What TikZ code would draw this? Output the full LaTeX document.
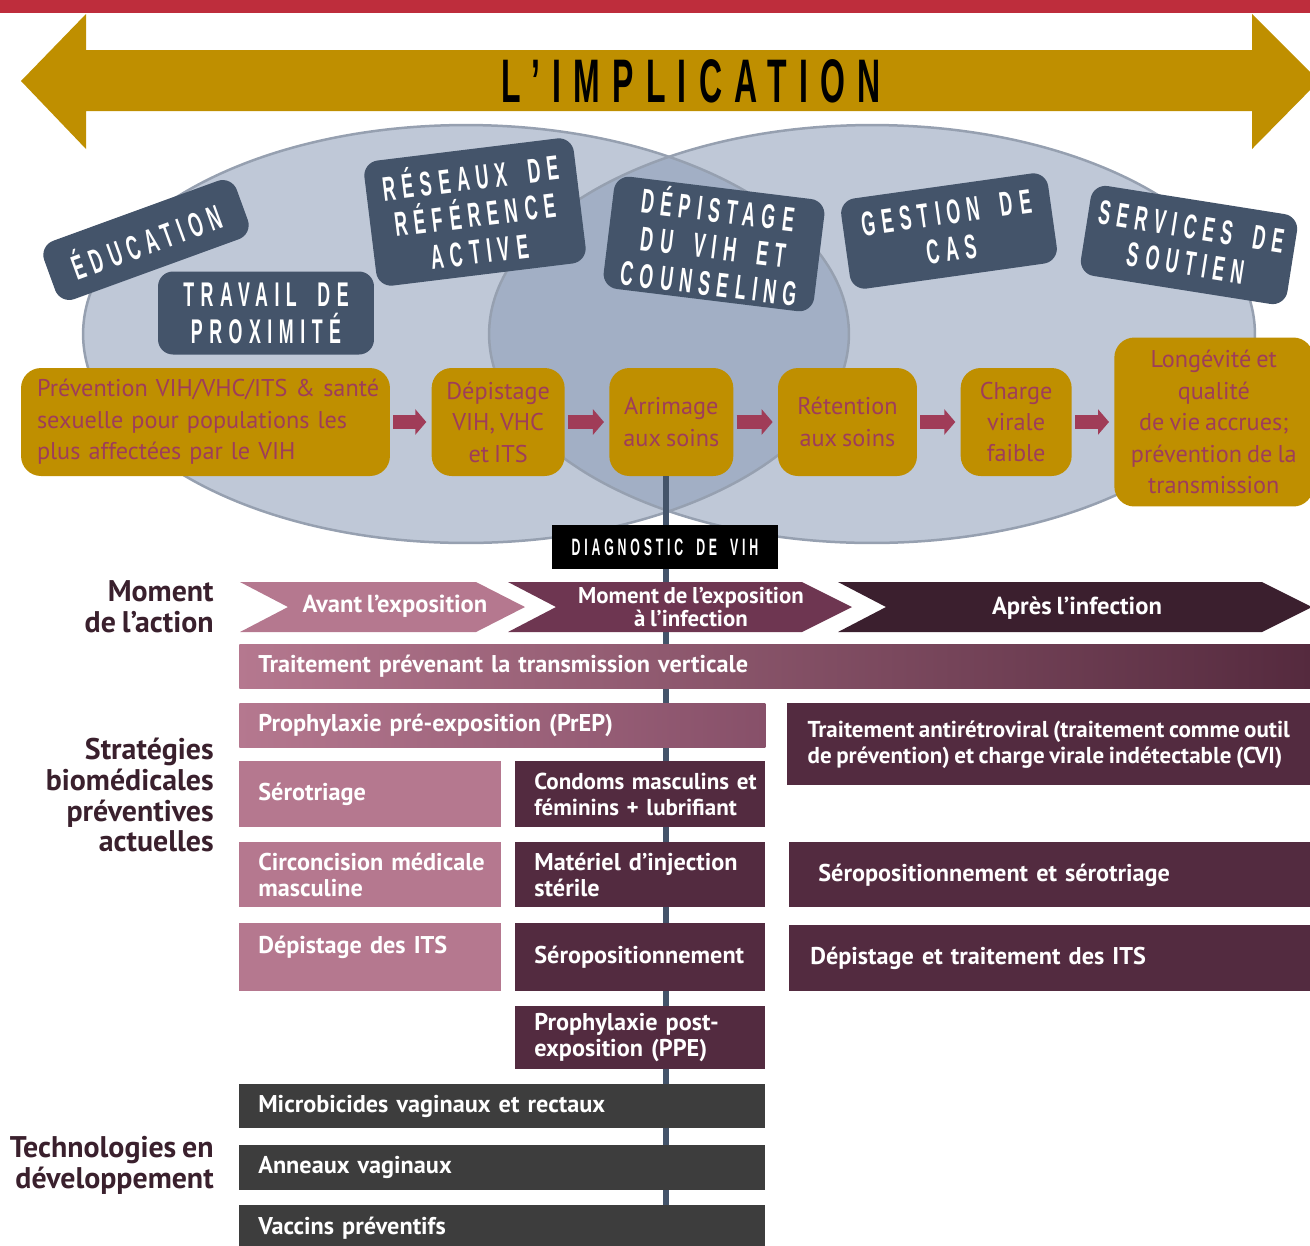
\documentclass[tikz,border=0pt]{standalone}
\usepackage{fontspec}
\setmainfont{PT Sans}
\newfontfamily\myriad[WordSpace=0.78]{PT Sans}
\newfontfamily\bebas[FakeStretch=0.52,LetterSpace=19,WordSpace=1.8]{Liberation Sans}
\usetikzlibrary{positioning,arrows.meta}

\definecolor{redbar}{RGB}{190,45,60}
\definecolor{gold}{RGB}{191,143,0}
\definecolor{haze}{RGB}{138,155,182}
\definecolor{hazeline}{RGB}{150,160,176}
\definecolor{slate}{RGB}{68,84,106}
\definecolor{rosetext}{RGB}{158,61,90}
\definecolor{flowred}{RGB}{160,60,88}
\definecolor{mauve}{RGB}{181,120,143}
\definecolor{plum}{RGB}{110,54,81}
\definecolor{wine}{RGB}{83,43,64}
\definecolor{aubergine}{RGB}{59,31,46}
\definecolor{deepwine}{RGB}{85,42,62}
\definecolor{prepend}{RGB}{135,80,105}
\definecolor{charcoal}{RGB}{61,61,61}
\definecolor{labeltext}{RGB}{58,32,45}

\begin{document}
\begin{tikzpicture}[
  x=0.02cm, y=-0.02cm,
  tag/.style={rectangle, rounded corners=0.3cm, fill=slate, text=white, align=center, inner sep=0pt, font=\bebas\bfseries\fontsize{19.5}{21}\selectfont},
  stepbox/.style={rectangle, rounded corners=0.4cm, fill=gold, text=rosetext, align=center, inner sep=0pt, minimum height=2.16cm, font=\myriad\fontsize{13.8}{17.9}\selectfont},
  flow/.style={-{Triangle[length=0.22cm,width=0.5cm]}, line width=0.28cm, draw=flowred, shorten <=0.06cm, shorten >=0.1cm},
  bar/.style={rectangle, anchor=north west, inner xsep=0.38cm, inner ysep=0pt, text=white, align=left, font=\myriad\bfseries\fontsize{13.8}{14.7}\selectfont},
  phase/.style={text=white, align=center, inner sep=0pt, font=\myriad\bfseries\fontsize{14}{12}\selectfont},
  sidelabel/.style={anchor=east, align=right, text=labeltext, inner sep=0pt, font=\myriad\bfseries\fontsize{17}{17.6}\selectfont},
  spine/.style={draw=slate, line width=0.11cm},
]
  \useasboundingbox (0,0) rectangle (1310,1245);

  % banner
  \fill[redbar] (0,0) rectangle (1310,13);
  \fill[gold] (21,81) -- (86,14) -- (86,50) -- (1252,50) -- (1252,14) -- (1319,81)
    -- (1252,149) -- (1252,111) -- (86,111) -- (86,149) -- cycle;
  \node[font=\bebas\bfseries\fontsize{35}{35}\selectfont\addfontfeature{LetterSpace=20}] (title) at (691,81) {L’IMPLICATION};

  % the two circles
  \fill[haze, fill opacity=0.55] (466,334) ellipse [x radius=7.66cm, y radius=4.18cm];
  \fill[haze, fill opacity=0.55] (872,334) ellipse [x radius=7.66cm, y radius=4.18cm];
  \draw[hazeline, line width=0.05cm] (466,334) ellipse [x radius=7.66cm, y radius=4.18cm];
  \draw[hazeline, line width=0.05cm] (872,334) ellipse [x radius=7.66cm, y radius=4.18cm];

  \node[tag, minimum width=4.1cm, minimum height=1.24cm, rotate=20] (educ) at (146,240) {ÉDUCATION};
  \node[tag, minimum width=4.32cm, minimum height=1.66cm] (prox) at (266,313) {TRAVAIL DE\\PROXIMITÉ};
  \node[tag, minimum width=4.22cm, minimum height=2.52cm, rotate=7] (resx) at (475,212) {RÉSEAUX DE\\RÉFÉRENCE\\ACTIVE};
  \node[tag, minimum width=4.24cm, minimum height=2.26cm, rotate=-7] (depi) at (714,244) {DÉPISTAGE\\DU VIH ET\\COUNSELING};
  \node[tag, minimum width=4.18cm, minimum height=1.82cm, rotate=8] (gest) at (949,231) {GESTION DE\\CAS};
  \node[tag, minimum width=4.18cm, minimum height=1.82cm, rotate=-9] (serv) at (1189,245) {SERVICES DE\\SOUTIEN};

  % continuum of care
  \node[stepbox, minimum width=7.38cm, text width=6.74cm, align=left] (b1) at (205.5,422) {\mbox{Prévention VIH/VHC/ITS \& santé}\\sexuelle pour populations les\\plus affectées par le VIH};
  \node[stepbox, minimum width=2.66cm, right=0.82cm of b1] (b2) {Dépistage\\VIH, VHC\\et ITS};
  \node[stepbox, minimum width=2.48cm, right=0.88cm of b2] (b3) {Arrimage\\aux soins};
  \node[stepbox, minimum width=2.78cm, right=0.88cm of b3] (b4) {Rétention\\aux soins};
  \node[stepbox, minimum width=2.22cm, right=0.86cm of b4] (b5) {Charge\\virale\\faible};
  \node[stepbox, minimum width=3.98cm, minimum height=3.38cm, right=0.84cm of b5] (b6) {Longévité et\\qualité\\de vie accrues;\\prévention de la\\transmission};

  \draw[flow] (b1) -- (b2);
  \draw[flow] (b2) -- (b3);
  \draw[flow] (b3) -- (b4);
  \draw[flow] (b4) -- (b5);
  \draw[flow] (b5) -- (b6);

  \coordinate (spinebot) at (666,1250);
  \draw[spine] (b3.south -| spinebot) -- (spinebot);

  \node[fill=black, text=white, inner sep=0pt, minimum width=4.52cm, minimum height=0.88cm,
        font=\bebas\bfseries\fontsize{13.5}{12}\selectfont\addfontfeature{LetterSpace=16}] (diag) at (665,547) {DIAGNOSTIC DE VIH};

  % moment of action
  \fill[mauve] (240,582) -- (476,582) -- (525,607) -- (476,632) -- (240,632) -- (288,607) -- cycle;
  \fill[plum] (508,582) -- (802,582) -- (852,607) -- (802,632) -- (508,632) -- (556,607) -- cycle;
  \fill[aubergine] (838,582) -- (1262,582) -- (1312,607) -- (1262,632) -- (838,632) -- (886,607) -- cycle;
  \node[phase] (avant) at (395,606) {Avant l’exposition};
  \node[phase, font=\myriad\bfseries\fontsize{13}{11.3}\selectfont] (pendant) at (691,607) {Moment de l’exposition\\à l’infection};
  \node[phase] (apres) at (1077,608) {Après l’infection};

  \node[sidelabel] (moment) at (214,607) {Moment\\de l’action};
  \node[sidelabel] (strat) at (214,795) {Stratégies\\biomédicales\\préventives\\actuelles};
  \node[sidelabel] (techno) at (214,1165) {Technologies en\\développement};

  % current strategies
  \node[bar, left color=mauve, right color=deepwine, text width=20.66cm, minimum height=0.88cm] (vert) at (239,644) {Traitement prévenant la transmission verticale};
  \node[bar, left color=mauve, right color=prepend, text width=9.76cm, minimum height=0.88cm] (prep) at (239,703) {Prophylaxie pré-exposition (PrEP)};
  \node[bar, fill=wine, minimum width=10.46cm, minimum height=1.64cm, inner xsep=0pt, font=\myriad\bfseries\fontsize{13.1}{14.7}\selectfont] (arv) at (787,703) {Traitement antirétroviral (traitement comme outil\\de prévention) et charge virale indétectable (CVI)};

  \node[bar, fill=mauve, text width=4.48cm, minimum height=1.32cm] (serotri) at (239,761) {Sérotriage};
  \node[bar, fill=mauve, text width=4.48cm, minimum height=1.3cm] (circ) at (239,842) {\mbox{Circoncision médicale}\\masculine};
  \node[bar, fill=mauve, text width=4.48cm, minimum height=1.36cm] (its) at (239,923) {Dépistage des ITS\\ \mbox{}};

  \node[bar, fill=wine, text width=4.24cm, minimum height=1.32cm, font=\myriad\bfseries\fontsize{13.1}{14.7}\selectfont] (cond) at (515,761) {\mbox{Condoms masculins et}\\\mbox{féminins + lubrifiant}};
  \node[bar, fill=wine, text width=4.24cm, minimum height=1.3cm] (inj) at (515,842) {\mbox{Matériel d’injection}\\stérile};
  \node[bar, fill=wine, text width=4.24cm, minimum height=1.36cm] (seropos) at (515,923) {\mbox{Séropositionnement}};
  \node[bar, fill=wine, text width=4.24cm, minimum height=1.26cm] (ppe) at (515,1006) {\mbox{Prophylaxie post-}\\exposition (PPE)};

  \node[bar, fill=wine, inner xsep=0.58cm, text width=9.26cm, minimum height=1.3cm] (serotri2) at (789,842) {Séropositionnement et sérotriage};
  \node[bar, fill=wine, inner xsep=0.42cm, text width=9.58cm, minimum height=1.32cm] (itstrait) at (789,925) {Dépistage et traitement des ITS};

  % technologies in development
  \node[bar, fill=charcoal, text width=9.76cm, minimum height=0.88cm] (micro) at (239,1084) {Microbicides vaginaux et rectaux};
  \node[bar, fill=charcoal, text width=9.76cm, minimum height=0.9cm] (anneau) at (239,1145) {Anneaux vaginaux};
  \node[bar, fill=charcoal, text width=9.76cm, minimum height=0.9cm] (vaccin) at (239,1205) {Vaccins préventifs};
\end{tikzpicture}
\end{document}
